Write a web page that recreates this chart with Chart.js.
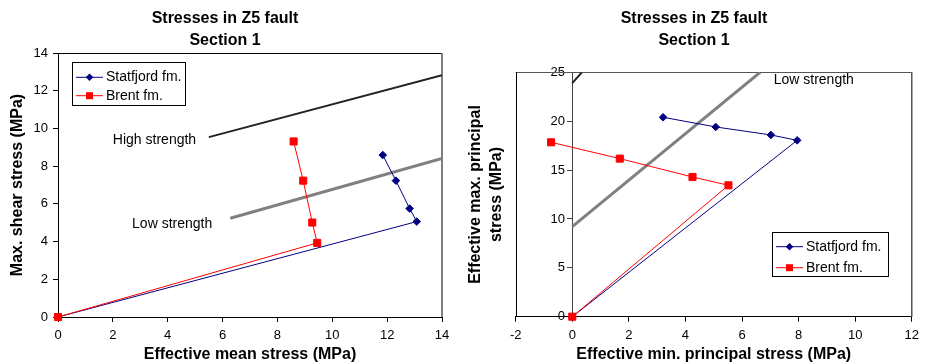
<!DOCTYPE html>
<html>
<head>
<meta charset="utf-8">
<script src="https://cdn.jsdelivr.net/npm/chart.js@4.4.0/dist/chart.umd.min.js"></script>
<style>
  html, body { margin: 0; padding: 0; background: #fff; }
  #wrap { position: relative; width: 925px; height: 364px; overflow: hidden; }
  canvas { position: absolute; top: 0; }
  #left { left: 0; }
  #right { left: 462px; }
</style>
</head>
<body>
<div id="wrap">
  <canvas id="left" width="462" height="364"></canvas>
  <canvas id="right" width="463" height="364"></canvas>
</div>
<script>
// left chart : mean stress vs shear stress
const statfjordMean = [0, 13.08, 12.82, 12.32, 11.84];
const statfjordShear = [0, 5.06, 5.75, 7.23, 8.59];
const brentMean = [0, 9.45, 9.27, 8.94, 8.59];
const brentShear = [0, 3.93, 5.01, 7.23, 9.31];
const highMean = [5.5, 14];
const highShear = [9.54, 12.82];
const lowMean = [6.28, 14];
const lowShear = [5.24, 8.41];
const meanTicks = [0, 2, 4, 6, 8, 10, 12, 14];
const shearTicks = [0, 2, 4, 6, 8, 10, 12, 14];

// right chart : min vs max principal stress
const statfjordMin = [0, 7.95, 7.02, 5.07, 3.21];
const statfjordMax = [0, 18.04, 18.59, 19.41, 20.40];
const brentMin = [0, 5.52, 4.25, 1.68, -0.75];
const brentMax = [0, 13.44, 14.29, 16.17, 17.84];
const highMin = [0, 0.34];
const highMax = [23.9, 25];
const lowMin = [0, 6.64];
const lowMax = [9.21, 25];
const minTicks = [-2, 0, 2, 4, 6, 8, 10, 12];
const maxTicks = [0, 5, 10, 15, 20, 25];

const NAVY = '#000080';
const RED = '#ff0000';

Chart.defaults.font.family = "'Liberation Sans', Arial, sans-serif";
Chart.defaults.color = '#000';

function pts(xs, ys) {
    return xs.map(function(x, i) { return { x: x, y: ys[i] }; });
}

function seriesSets(sx, sy, bx, by, hx, hy, lx, ly) {
    return [
        { label: 'Brent fm.', data: pts(bx, by), borderColor: RED, backgroundColor: RED,
          borderWidth: 1, pointStyle: 'rect', pointRadius: 5, showLine: true, clip: false },
        { label: 'Statfjord fm.', data: pts(sx, sy), borderColor: NAVY, backgroundColor: NAVY,
          borderWidth: 1, pointStyle: 'rectRot', pointRadius: 3.8, showLine: true, clip: false },
        { label: 'High strength', data: pts(hx, hy), borderColor: '#222', borderWidth: 2,
          pointRadius: 0, showLine: true },
        { label: 'Low strength', data: pts(lx, ly), borderColor: '#808080', borderWidth: 3,
          pointRadius: 0, showLine: true }
    ];
}

// frame around the plot area
const frame = {
    id: 'frame',
    beforeDatasetsDraw(chart, args, o) {
        const a = chart.chartArea, c = chart.ctx;
        c.save();
        function seg(col, w, x1, y1, x2, y2) {
            c.strokeStyle = col; c.lineWidth = w;
            c.beginPath(); c.moveTo(x1, y1); c.lineTo(x2, y2); c.stroke();
        }
        seg(o.top, 1, a.left, Math.round(a.top) + 0.5, a.right, Math.round(a.top) + 0.5);
        seg(o.right, o.rightWidth, a.right, a.top, a.right, a.bottom);
        if (o.left) seg(o.left, 1, Math.round(a.left) + 0.5, a.top, Math.round(a.left) + 0.5, a.bottom);
        c.restore();
    }
};

// boxed legend inside the plot
const boxLegend = {
    id: 'boxLegend',
    afterDraw(chart, args, o) {
        const c = chart.ctx;
        c.save();
        c.fillStyle = '#fff';
        c.fillRect(o.x, o.y, o.w, o.h);
        c.strokeStyle = '#000'; c.lineWidth = 1;
        c.strokeRect(o.x + 0.5, o.y + 0.5, o.w, o.h);
        o.items.forEach(function(idx, i) {
            const ds = chart.data.datasets[idx];
            const y = o.y + o.first + i * o.gap;
            const mx = o.x + 17.5;
            c.strokeStyle = ds.borderColor; c.fillStyle = ds.borderColor; c.lineWidth = 1;
            c.beginPath(); c.moveTo(o.x + 4, y); c.lineTo(o.x + 31, y); c.stroke();
            c.beginPath();
            if (ds.pointStyle === 'rect') {
                c.rect(mx - 3.5, y - 3.5, 7, 7);
            } else {
                c.moveTo(mx, y - 3.8); c.lineTo(mx + 3.8, y); c.lineTo(mx, y + 3.8); c.lineTo(mx - 3.8, y);
                c.closePath();
            }
            c.fill();
            c.fillStyle = '#000';
            c.font = "14px 'Liberation Sans', Arial, sans-serif";
            c.textBaseline = 'middle';
            c.fillText(ds.label, o.x + 34, y);
        });
        c.restore();
    }
};

// text labels next to the strength lines
const lineLabels = {
    id: 'lineLabels',
    afterDatasetsDraw(chart, args, o) {
        const c = chart.ctx, sx = chart.scales.x, sy = chart.scales.y;
        c.save();
        c.fillStyle = '#000';
        c.font = "14px 'Liberation Sans', Arial, sans-serif";
        c.textBaseline = 'middle';
        o.labels.forEach(function(l) {
            c.fillText(l.text, sx.getPixelForValue(l.x), sy.getPixelForValue(l.y));
        });
        c.restore();
    }
};

const titleOpts = {
    display: true,
    text: ['Stresses in Z5 fault', 'Section 1'],
    font: { size: 16, weight: 'bold', lineHeight: 1.375 },
    color: '#000'
};

const tickFont = { size: 13 };
const axisTitleFont = { size: 16, weight: 'bold' };

new Chart(document.getElementById('left'), {
    type: 'scatter',
    data: { datasets: seriesSets(statfjordMean, statfjordShear, brentMean, brentShear,
                                 highMean, highShear, lowMean, lowShear) },
    plugins: [frame, boxLegend, lineLabels],
    options: {
        responsive: false,
        animation: false,
        events: [],
        layout: { padding: { left: 8, right: 20, top: 0, bottom: 0 } },
        scales: {
            x: {
                type: 'linear', min: 0, max: 14,
                afterBuildTicks: function(s) { s.ticks = meanTicks.map(function(v) { return { value: v }; }); },
                afterFit: function(s) { s.height = 47; },
                ticks: { font: tickFont, padding: 6 },
                grid: { drawOnChartArea: false, tickLength: 5, color: '#000' },
                border: { color: '#000' },
                title: { display: true, text: 'Effective mean stress (MPa)', font: axisTitleFont, padding: 0 }
            },
            y: {
                type: 'linear', min: 0, max: 14,
                afterBuildTicks: function(s) { s.ticks = shearTicks.map(function(v) { return { value: v }; }); },
                afterFit: function(s) { s.width = 50; },
                ticks: { font: tickFont, padding: 5 },
                grid: { drawOnChartArea: false, tickLength: 5, color: '#000' },
                border: { color: '#000' },
                title: { display: true, text: 'Max. shear stress (MPa)', font: axisTitleFont, padding: 0 }
            }
        },
        plugins: {
            legend: { display: false },
            tooltip: { enabled: false },
            title: Object.assign({}, titleOpts, { padding: { top: 8, bottom: 1 } }),
            frame: { top: '#000', right: '#808080', rightWidth: 2 },
            boxLegend: { x: 72, y: 62, w: 113, h: 43, first: 15.3, gap: 18.4, items: [1, 0] },
            lineLabels: { labels: [
                { text: 'High strength', x: 2.0, y: 9.38 },
                { text: 'Low strength', x: 2.7, y: 4.94 }
            ] }
        }
    }
});

new Chart(document.getElementById('right'), {
    type: 'scatter',
    data: { datasets: seriesSets(statfjordMin, statfjordMax, brentMin, brentMax,
                                 highMin, highMax, lowMin, lowMax) },
    plugins: [frame, boxLegend, lineLabels],
    options: {
        responsive: false,
        animation: false,
        events: [],
        layout: { padding: { left: 10, right: 9, top: 0, bottom: 0 } },
        scales: {
            x: {
                type: 'linear', min: -2, max: 12, position: 'bottom',
                afterBuildTicks: function(s) { s.ticks = minTicks.map(function(v) { return { value: v }; }); },
                afterFit: function(s) { s.height = 47.3; },
                ticks: { font: tickFont, padding: 6 },
                grid: { drawOnChartArea: false, tickLength: 5, color: '#000' },
                border: { color: '#000' },
                title: { display: true, text: 'Effective min. principal stress (MPa)', font: axisTitleFont, padding: 0 }
            },
            y: {
                type: 'linear', min: 0, max: 25, position: { x: 0 },
                afterBuildTicks: function(s) { s.ticks = maxTicks.map(function(v) { return { value: v }; }); },
                // labels of an axis placed at x = 0 get no padding, so keep them off the line
                ticks: { font: tickFont, callback: function(v) { return v + '  '; } },
                grid: { drawOnChartArea: false, tickLength: 5, color: '#444' },
                border: { color: '#444' }
            },
            yTitle: {
                type: 'linear', min: 0, max: 25, position: 'left',
                afterFit: function(s) { s.width = 43.7; },
                ticks: { display: false },
                grid: { display: false },
                border: { display: false },
                title: { display: true, text: ['Effective max. principal', 'stress (MPa)'],
                         font: { size: 16, weight: 'bold', lineHeight: 1.3 }, padding: { top: -6.7, bottom: 0 } }
            }
        },
        plugins: {
            legend: { display: false },
            tooltip: { enabled: false },
            title: Object.assign({}, titleOpts, { padding: { top: 8, bottom: 20.3 } }),
            frame: { top: '#555', right: '#555', rightWidth: 1.5, left: '#000' },
            boxLegend: { x: 310, y: 232, w: 116, h: 44, first: 14.7, gap: 21, items: [1, 0] },
            lineLabels: { labels: [
                { text: 'Low strength', x: 7.12, y: 24.2 }
            ] }
        }
    }
});
</script>
</body>
</html>
